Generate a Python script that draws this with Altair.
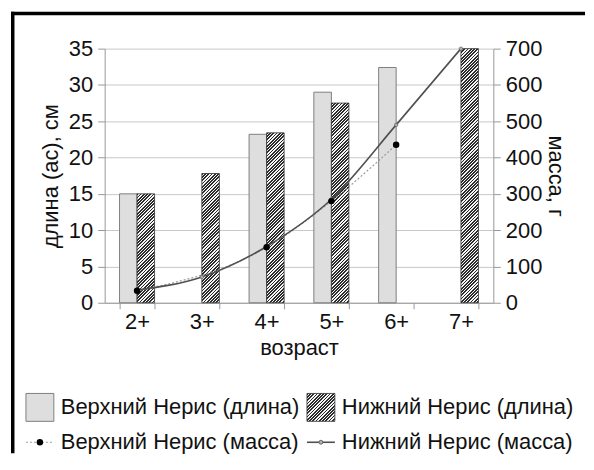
import math
import altair as alt
import pandas as pd

# ---------------- data ----------------
ages = ["2+", "3+", "4+", "5+", "6+", "7+"]
rivers = ["Верхний Нерис", "Нижний Нерис"]
measures = ["длина", "масса"]
len_upper = [15.0, None, 23.2, 29.0, 32.4, None]
len_lower = [15.0, 17.8, 23.4, 27.5, None, 35.0]
mass_upper = [33, None, 153, 280, 435, None]
mass_lower = [35, 71, 155, 285, 490, 700]
len_ticks = [0, 5, 10, 15, 20, 25, 30, 35]
mass_ticks = [0, 100, 200, 300, 400, 500, 600, 700]
x_title = "возраст"
yl_title = "длина (ас), см"
yr_title = "масса, г"

# ---------------- layout / style ----------------
W, H = 390, 255
FONT = "Liberation Sans"
FS = 22
TXT = "#111111"
AX = "#999999"
PAD_IN = 0.459
BAR_W = W / 6 * (1 - PAD_IN) / 2


def hatch(w, h, period=2.3, dark="#2c2c2c", light="#f6f6f6", frac=0.55):
    r = h / w
    c = (1 + r) / (1 + r * r)
    n = (w + h) / (math.sqrt(2) * period)
    stops = []
    i = 0
    while i / n < 1:
        a = min(i / n, 1)
        b = min((i + frac) / n, 1)
        e = min((i + 1) / n, 1)
        stops += [(dark, a), (dark, b), (light, b), (light, e)]
        i += 1
    return alt.LinearGradient(
        gradient="linear", x1=0, y1=0, x2=c, y2=c * r,
        stops=[alt.GradientStop(color=col, offset=round(o, 5)) for col, o in stops],
    )


rows = []
for i, a in enumerate(ages):
    rows.append(dict(age=a, river=rivers[0], length=len_upper[i], mass=mass_upper[i]))
    rows.append(dict(age=a, river=rivers[1], length=len_lower[i], mass=mass_lower[i]))
df = pd.DataFrame(rows)

x_enc = alt.X(
    "age:N", sort=ages,
    scale=alt.Scale(domain=ages, paddingInner=PAD_IN, paddingOuter=PAD_IN / 2),
    axis=alt.Axis(title=x_title, labelAngle=0, tickBand="extent", domainColor=AX,
                  tickColor=AX, tickSize=6, labelPadding=3, titlePadding=5,
                  labelFontSize=FS, titleFontSize=FS, labelColor=TXT, titleColor=TXT,
                  titleFontWeight="normal", grid=False),
)
xoff = alt.XOffset("river:N", sort=rivers,
                   scale=alt.Scale(domain=rivers, paddingInner=0, paddingOuter=0))
y_len = alt.Y(
    "length:Q", scale=alt.Scale(domain=[0, 35]),
    axis=alt.Axis(title=yl_title, values=len_ticks, domainColor=AX, tickColor=AX,
                  tickSize=7, labelPadding=5, titlePadding=6, gridColor="#c8c8c8",
                  labelFontSize=FS, titleFontSize=FS, labelColor=TXT, titleColor=TXT,
                  titleFontWeight="normal", grid=True),
)
y_mass = alt.Y(
    "mass:Q", scale=alt.Scale(domain=[0, 700]),
    axis=alt.Axis(title=yr_title, orient="right", values=mass_ticks, domainColor=AX,
                  tickColor=AX, tickSize=7, labelPadding=5, titlePadding=2,
                  labelFontSize=FS, titleFontSize=FS, labelColor=TXT, titleColor=TXT,
                  titleFontWeight="normal", grid=False),
)

base = alt.Chart(df)
upper_bars = base.transform_filter(
    f"datum.river == '{rivers[0]}' && isValid(datum.length)"
).mark_bar(fill="#dedede", stroke="#808080", strokeWidth=1).encode(
    x=x_enc, xOffset=xoff, y=y_len)

hatched = []
for i, a in enumerate(ages):
    v = len_lower[i]
    if v is None:
        continue
    g = hatch(BAR_W, v / 35 * H)
    hatched.append(
        base.transform_filter(f"datum.river == '{rivers[1]}' && datum.age == '{a}'")
        .mark_bar(fill=g, stroke="#333333", strokeWidth=0.8)
        .encode(x=x_enc, xOffset=xoff, y=y_len)
    )

bars_group = alt.layer(upper_bars, *hatched)

up = base.transform_filter(f"datum.river == '{rivers[0]}' && isValid(datum.mass)")
lo = base.transform_filter(f"datum.river == '{rivers[1]}' && isValid(datum.mass)")
upper_line = up.mark_line(color="#9a9a9a", strokeWidth=1.2, strokeDash=[2, 2],
                          interpolate="monotone").encode(x=x_enc, y=y_mass)
lower_line = lo.mark_line(color="#505050", strokeWidth=1.6,
                          interpolate="monotone").encode(x=x_enc, y=y_mass)
lower_marks = lo.mark_point(shape="circle", filled=True, size=12, fill="#b0b0b0",
                            stroke="#505050", strokeWidth=0.6, opacity=1).encode(
    x=x_enc, y=y_mass)
upper_dots = up.mark_circle(size=42, color="black", opacity=1).encode(x=x_enc, y=y_mass)
lines_group = alt.layer(upper_line, lower_line, lower_marks, upper_dots)

# decorative frame (top and left edges of the figure border)
frame_df = pd.DataFrame({"k": [0]})
frame_left = alt.Chart(frame_df).mark_rect(color="black", strokeWidth=0).encode(
    x=alt.value(-94), x2=alt.value(-90.5), y=alt.value(-37), y2=alt.value(406))
frame_top = alt.Chart(frame_df).mark_rect(color="black", strokeWidth=0).encode(
    x=alt.value(-94), x2=alt.value(482), y=alt.value(-37), y2=alt.value(-33.5))

main = alt.layer(bars_group, lines_group, frame_left, frame_top).resolve_scale(
    y="independent").properties(width=W, height=H)

# ---------------- legend ----------------
leg_rows = []
for m in measures:
    for r in rivers:
        leg_rows.append(dict(river=r, measure=m, label=f"{r} ({m})"))
leg_df = pd.DataFrame(leg_rows)
lx = alt.X("river:N", sort=rivers,
           scale=alt.Scale(type="point", domain=rivers, padding=0), axis=None)
ly = alt.Y("measure:N", sort=measures,
           scale=alt.Scale(type="point", domain=measures, padding=0), axis=None)
lb = alt.Chart(leg_df)
SW = 28
OFF = -65


def sel(r, m):
    return f"datum.river == '{r}' && datum.measure == '{m}'"


sw_up = lb.transform_filter(sel(rivers[0], measures[0])).mark_square(
    size=SW * SW, fill="#dedede", stroke="#808080", strokeWidth=1, opacity=1,
    xOffset=OFF).encode(x=lx, y=ly)
sw_lo = lb.transform_filter(sel(rivers[1], measures[0])).mark_square(
    size=SW * SW, fill=hatch(SW, SW), stroke="#333333", strokeWidth=0.8, opacity=1,
    xOffset=OFF).encode(x=lx, y=ly)
ln_up = lb.transform_filter(sel(rivers[0], measures[1])).mark_point(
    shape="stroke", size=SW * SW, stroke="#9a9a9a", strokeWidth=1.2, strokeDash=[2, 2],
    opacity=1, xOffset=OFF).encode(x=lx, y=ly)
dot_up = lb.transform_filter(sel(rivers[0], measures[1])).mark_circle(
    size=42, color="black", opacity=1, xOffset=OFF).encode(x=lx, y=ly)
ln_lo = lb.transform_filter(sel(rivers[1], measures[1])).mark_point(
    shape="stroke", size=SW * SW, stroke="#505050", strokeWidth=1.6,
    opacity=1, xOffset=OFF).encode(x=lx, y=ly)
dot_lo = lb.transform_filter(sel(rivers[1], measures[1])).mark_point(
    shape="circle", filled=True, size=16, fill="#b0b0b0", stroke="#505050",
    strokeWidth=0.8, opacity=1, xOffset=OFF).encode(x=lx, y=ly)
labels = lb.mark_text(align="left", baseline="middle", dx=-44, fontSize=FS,
                      font=FONT, color=TXT).encode(x=lx, y=ly, text="label:N")

legend = alt.layer(sw_up, sw_lo, ln_up, dot_up, ln_lo, dot_lo, labels).properties(
    width=282, height=35)

chart = alt.vconcat(main, legend, spacing=105, bounds="flush").properties(
    padding={"left": 2, "top": 2, "right": 0, "bottom": 0}
).configure(font=FONT).configure_view(stroke="transparent")

chart.save("out.html", embed_options={"renderer": "svg", "actions": False})
